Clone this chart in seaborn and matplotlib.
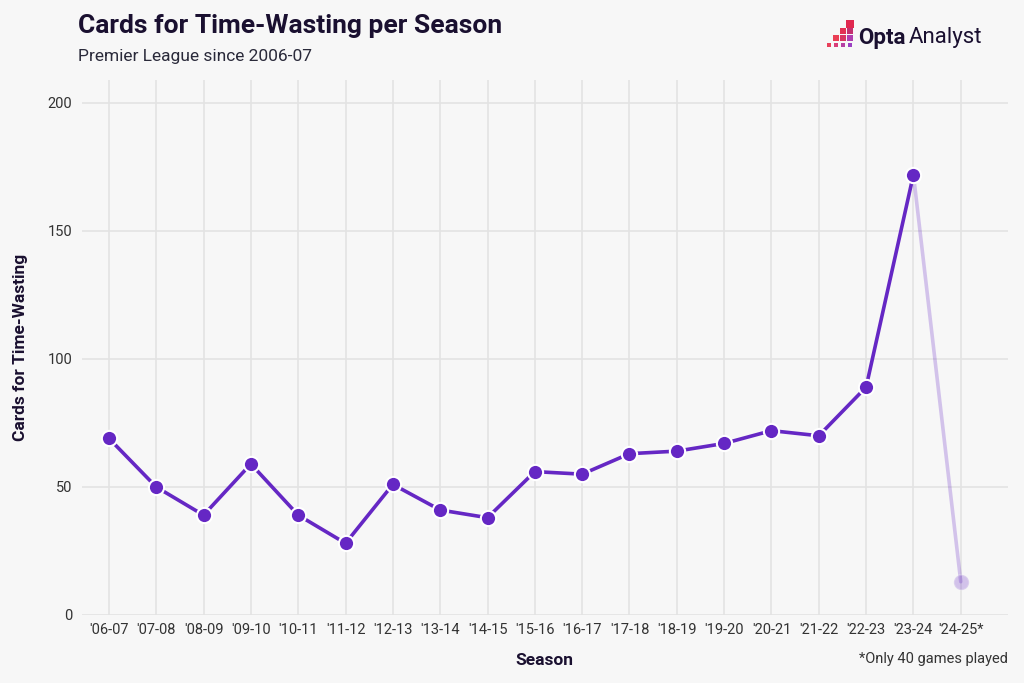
import pandas as pd
import numpy as np
import matplotlib
matplotlib.use('Agg')
import matplotlib.pyplot as plt
import seaborn as sns
from matplotlib.patches import Rectangle

##################
# Data
##################

seasons = ["'06-07", "'07-08", "'08-09", "'09-10", "'10-11", "'11-12", "'12-13",
           "'13-14", "'14-15", "'15-16", "'16-17", "'17-18", "'18-19", "'19-20",
           "'20-21", "'21-22", "'22-23", "'23-24", "'24-25*"]
cards = [69, 50, 39, 59, 39, 28, 51, 41, 38, 56, 55, 63, 64, 67, 72, 70, 89, 172, 13]
yticks = [0, 50, 100, 150, 200]

df = pd.DataFrame({'season': seasons, 'cards': cards, 'idx': range(len(seasons))})
full = df.iloc[:-1]
partial = df.iloc[-2:]

##################
# Style
##################

bg = '#f7f7f7'
purple = '#6527c4'
dark = '#1a1030'

sns.set_theme(style='whitegrid')
plt.rcParams['font.family'] = ['Roboto', 'DejaVu Sans']

fig = plt.figure(figsize=(10.24, 6.83), dpi=100, facecolor=bg)
ax = fig.add_axes([0.080, 0.0996, 0.904, 0.7834])
ax.set_facecolor(bg)

sns.lineplot(data=partial, x='idx', y='cards', ax=ax, color=purple, alpha=0.25,
             linewidth=2.6, marker='o', markersize=11, markeredgecolor=bg,
             markeredgewidth=1.5, zorder=2)
sns.lineplot(data=full, x='idx', y='cards', ax=ax, color=purple,
             linewidth=2.6, marker='o', markersize=11, markeredgecolor='white',
             markeredgewidth=1.5, zorder=3)

ax.set_xlim(-0.57, 18.99)
ax.set_ylim(0, 209)
ax.set_xticks(df['idx'])
ax.set_xticklabels(seasons)
ax.set_yticks(yticks)
ax.tick_params(axis='both', labelsize=10.5, colors='#333333', length=0, pad=6)
ax.tick_params(axis='y', pad=7)
ax.grid(True, color='#e3e3e3', linewidth=1.2)
for s in ax.spines.values():
    s.set_visible(False)

ax.set_xlabel('Season', fontsize=12.5, fontweight='bold', color=dark, labelpad=11)
ax.set_ylabel('Cards for Time-Wasting', fontsize=12.5, fontweight='bold', color=dark, labelpad=14)

fig.text(0.076, 0.962, 'Cards for Time-Wasting per Season', fontsize=19, fontweight='bold',
         color=dark, va='center', ha='left')
fig.text(0.076, 0.918, 'Premier League since 2006-07', fontsize=12.5, color='#2a2a3a',
         va='center', ha='left')
fig.text(0.984, 0.035, '*Only 40 games played', fontsize=10.5, color='#333333',
         va='center', ha='right')

# logo: pixel staircase, squares shrink toward the bottom row
step = 7.2
sizes = [4.0, 5.5, 6.5, 7.5]
cells = [(0, 0, '#e8405a'), (1, 0, '#d93d78'), (2, 0, '#b63fa3'), (3, 0, '#9b40c2'),
         (1, 1, '#ea3f55'), (2, 1, '#d83763'), (3, 1, '#b03fb0'),
         (2, 2, '#e23254'), (3, 2, '#c3306f'),
         (3, 3, '#e0284f')]
px0, py0 = 825, 49  # bottom-left in pixels (from top)
for cx, cy, c in cells:
    s = sizes[cy]
    cxp = px0 + cx * step + (step - s) / 2
    cyp = py0 - cy * step - (step - s) / 2
    fig.patches.append(Rectangle((cxp / 1024, 1 - cyp / 683), s / 1024, s / 683,
                                 transform=fig.transFigure, color=c, linewidth=0))
fig.text(0.838, 0.945, 'Opta', fontsize=16, fontweight='bold', color=dark, va='center')
fig.text(0.887, 0.945, 'Analyst', fontsize=16, color=dark, va='center')

fig.savefig('out.png', dpi=100, facecolor=bg)
